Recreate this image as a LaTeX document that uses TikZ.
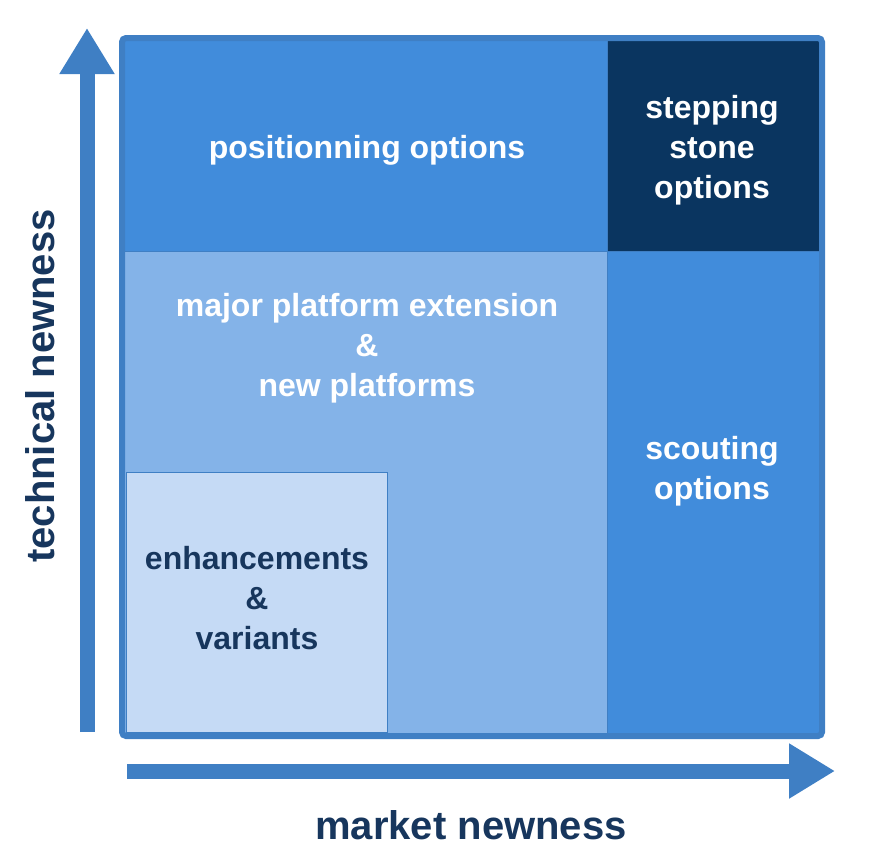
\documentclass[tikz,border=0pt]{standalone}
\usepackage{fontspec}
\setmainfont{Liberation Sans}
\usetikzlibrary{arrows.meta, positioning}
\definecolor{midblue}{HTML}{418CDB}
\definecolor{lightblue}{HTML}{84B3E8}
\definecolor{paleblue}{HTML}{C5DAF5}
\definecolor{darkblue}{HTML}{0A3560}
\definecolor{frameblue}{HTML}{3F7FC4}
\definecolor{textnavy}{HTML}{17365D}
\begin{document}
\begin{tikzpicture}[
    x=1pt, y=-1pt,
    cell/.style={rectangle, anchor=north west, inner sep=0pt},
    label/.style={align=center, font=\fontsize{32}{40}\selectfont\bfseries, text=white},
    axis/.style={-{Triangle[length=46pt, width=52pt]}, line width=15pt, draw=frameblue},
    axislabel/.style={font=\fontsize{40}{44}\selectfont\bfseries, text=textnavy}
]
\useasboundingbox (0,0) rectangle (882,863);

% Cells
\node[cell, fill=lightblue, minimum width=482pt, minimum height=482pt] (major) at (125,251) {};
\node[cell, fill=midblue, minimum width=482pt, minimum height=210pt] (position) at (125,41) {};
\node[cell, fill=darkblue, minimum width=213pt, minimum height=210pt] (stepping) at (607,41) {};
\node[cell, fill=midblue, minimum width=213pt, minimum height=482pt] (scouting) at (607,251) {};
\node[cell, fill=paleblue, draw=frameblue, line width=1pt, minimum width=261pt, minimum height=260pt] (enhance) at (126,472) {};

% Texts
\node[label] (positiontext) at (367,150) {positionning options};
\node[label] (steppingtext) at (712,150) {stepping\\stone\\options};
\node[label] (majortext) at (367,348) {major platform extension\\\&\\new platforms};
\node[label] (scoutingtext) at (712,471) {scouting\\options};
\node[label, text=textnavy] (enhancetext) at (257,598) {enhancements\\\&\\variants};

% Frame
\draw[frameblue, line width=6pt, rounded corners=4pt] (122,38) rectangle (822,736);
\draw[frameblue, line width=1pt] (125,251) -- (819,251) (607,41) -- (607,733);

% Axes
\coordinate (vstart) at (87,732);
\coordinate (vend) at (87,28);
\coordinate (hstart) at (127,771);
\coordinate (hend) at (835,771);
\draw[axis] (vstart) -- (vend);
\draw[axis] (hstart) -- (hend);
\node[axislabel, rotate=90] (tech) at (40,386) {technical newness};
\node[axislabel] (market) at (471,825) {market newness};
\end{tikzpicture}
\end{document}
